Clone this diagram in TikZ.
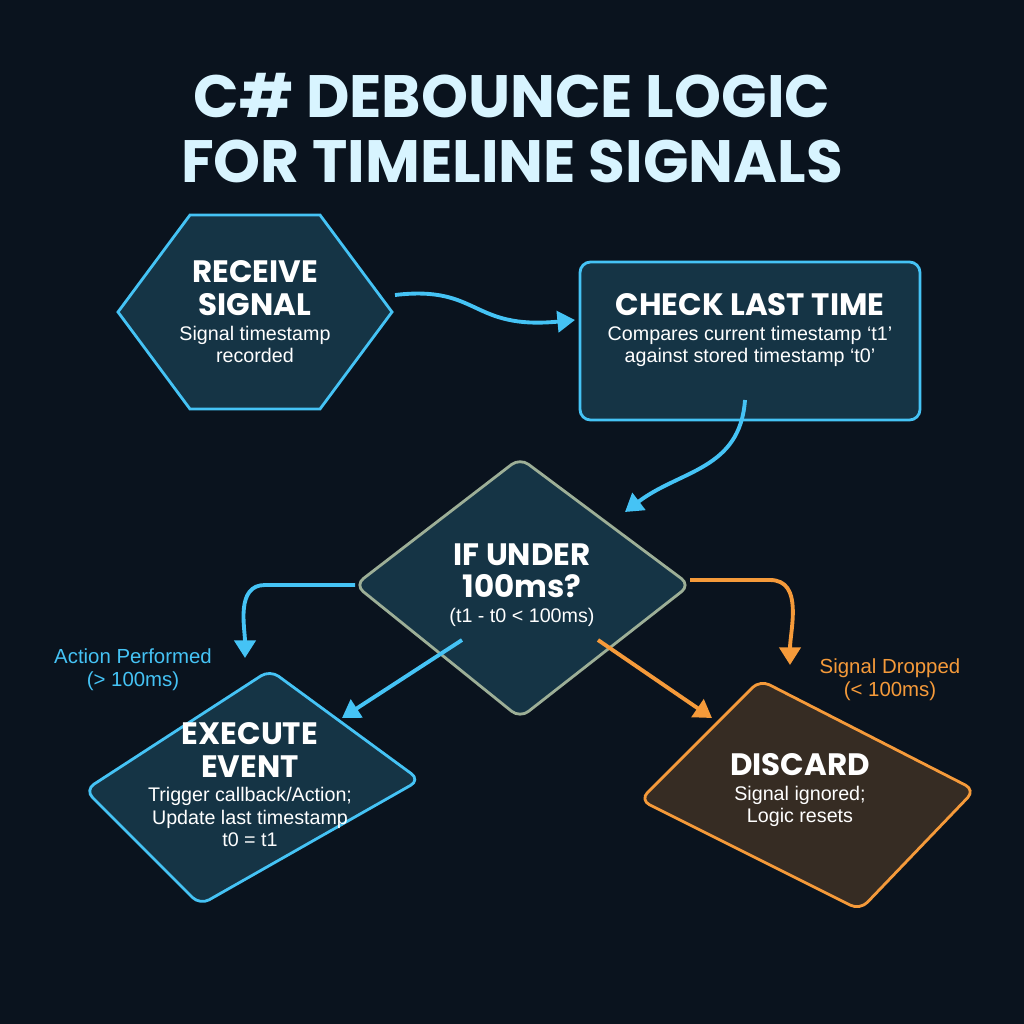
\documentclass[tikz,border=0pt]{standalone}
\usepackage{fontspec}
\setmainfont{Liberation Sans}
\newfontfamily\titlefont{Poppins}
\usetikzlibrary{shapes.geometric,arrows.meta,calc}
\definecolor{bgnavy}{HTML}{0A131E}
\definecolor{glowcyan}{HTML}{45C3F5}
\definecolor{glowor}{HTML}{F59A3A}
\definecolor{titlecol}{HTML}{D8F4FF}
\tikzset{
  headtxt/.style={font=\titlefont\bfseries\fontsize{8.8}{9.2}\selectfont,text=white,align=center,inner sep=1pt},
  subtxt/.style={font=\fontsize{5.6}{6.4}\selectfont,text=white!90,align=center,inner sep=1pt},
  boxc/.style={draw=glowcyan,line width=0.8pt,fill=glowcyan!22!bgnavy,fill opacity=0.85},
  boxo/.style={draw=glowor,line width=0.8pt,fill=glowor!22!bgnavy,fill opacity=0.85},
  flowc/.style={draw=glowcyan,line width=1.1pt,-{Triangle[length=5pt,width=6pt]}},
  flowo/.style={draw=glowor,line width=1.1pt,-{Triangle[length=5pt,width=6pt]}},
  lbl/.style={font=\fontsize{5.8}{6.6}\selectfont,align=center}
}
\begin{document}
\begin{tikzpicture}[x=0.01cm,y=-0.01cm]
\fill[bgnavy] (0,0) rectangle (1024,1024);
\useasboundingbox (0,0) rectangle (1024,1024);
% title
\node (title) at (512,128) [font=\titlefont\bfseries\fontsize{17}{18.5}\selectfont,text=titlecol,align=center]
  {C\# DEBOUNCE LOGIC\\FOR TIMELINE SIGNALS};
% receive signal (hexagon)
\coordinate (rc) at (255,312);
\draw[boxc] ($(rc)+(-137,0)$) -- ($(rc)+(-65,-97)$) -- ($(rc)+(65,-97)$) -- ($(rc)+(137,0)$)
  -- ($(rc)+(65,97)$) -- ($(rc)+(-65,97)$) -- cycle;
\node (rec) at (rc) [align=center,inner sep=0pt] {\tikz[baseline]\node[headtxt]{RECEIVE\\SIGNAL};\\
  \tikz[baseline]\node[subtxt]{Signal timestamp\\recorded};};
% check last time
\draw[boxc,rounded corners=3pt] (580,262) rectangle (920,420);
\node (chk) at (750,330) [align=center,inner sep=0pt] {\tikz[baseline]\node[headtxt]{CHECK LAST TIME};\\
  \tikz[baseline]\node[subtxt]{Compares current timestamp `t1'\\against stored timestamp `t0'};};
% decision
\draw[boxc,draw=glowcyan!50!glowor,rounded corners=3pt] (520,458) -- (690,585) -- (520,718) -- (355,585) -- cycle;
\node (dec) at (522,585) [align=center,inner sep=0pt] {\tikz[baseline]\node[headtxt]{IF UNDER\\100ms?};\\
  \tikz[baseline]\node[subtxt]{(t1 - t0 < 100ms)};};
% execute
\draw[boxc,rounded corners=3pt] (270,670) -- (420,780) -- (200,905) -- (85,790) -- cycle;
\node (exe) at (250,785) [align=center,inner sep=0pt] {\tikz[baseline]\node[headtxt]{EXECUTE\\EVENT};\\
  \tikz[baseline]\node[subtxt]{Trigger callback/Action;\\Update last timestamp\\t0 = t1};};
% discard
\draw[boxo,rounded corners=3pt] (760,680) -- (975,790) -- (860,910) -- (640,800) -- cycle;
\node (dis) at (800,790) [align=center,inner sep=0pt] {\tikz[baseline]\node[headtxt]{DISCARD};\\
  \tikz[baseline]\node[subtxt]{Signal ignored;\\Logic resets};};
% connectors
\coordinate (a1) at (395,295);
\coordinate (a2) at (575,320);
\draw[flowc] (a1) .. controls (480,285) and (470,330) .. (a2);
\coordinate (b1) at (745,400);
\coordinate (b2) at (625,512);
\draw[flowc] (b1) .. controls (740,470) and (680,470) .. (b2);
\coordinate (c1) at (355,585);
\coordinate (c2) at (245,658);
\draw[flowc] (c1) -- (265,585) to[out=180,in=90] (c2);
\coordinate (d1) at (690,580);
\coordinate (d2) at (790,665);
\draw[flowo] (d1) -- (770,580) to[out=0,in=90] (d2);
\coordinate (e1) at (462,640);
\coordinate (e2) at (342,718);
\draw[flowc] (e1) -- (e2);
\coordinate (f1) at (598,640);
\coordinate (f2) at (712,718);
\draw[flowo] (f1) -- (f2);
% branch labels
\node (actlbl) at (133,670) [lbl,text=glowcyan] {Action Performed\\(> 100ms)};
\node (droplbl) at (890,680) [lbl,text=glowor] {Signal Dropped\\(< 100ms)};
\end{tikzpicture}
\end{document}
